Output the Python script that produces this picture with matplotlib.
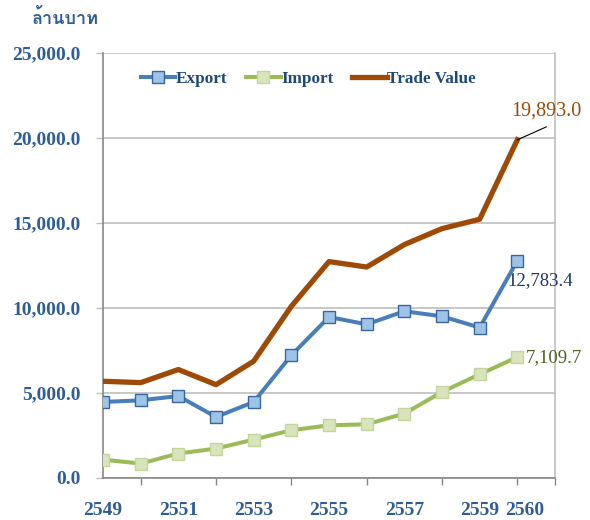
import numpy as np
import matplotlib
matplotlib.use('Agg')
import matplotlib.pyplot as plt
from matplotlib import font_manager
from matplotlib.ft2font import FT2Font

years = list(range(2549, 2561))
export = [4470, 4570, 4820, 3590, 4470, 7220, 9470, 9040, 9810, 9510, 8850, 12783.4]
imports = [1080, 850, 1440, 1730, 2260, 2810, 3100, 3160, 3790, 5060, 6100, 7109.7]
trade = [5690, 5610, 6380, 5490, 6870, 10100, 12730, 12410, 13730, 14670, 15220, 19893.0]
year_labels = ['2549', '2551', '2553', '2555', '2557', '2559', '2560']
unit_label = 'ล้านบาท'


def find_thai_font():
    # look for any installed font that carries Thai glyphs
    for f in font_manager.fontManager.ttflist:
        try:
            cmap = FT2Font(f.fname).get_charmap()
        except Exception:
            continue
        if ord('ล') in cmap and ord('บ') in cmap:
            return f.name
    return 'DejaVu Sans'


serif = ['Liberation Serif', 'DejaVu Serif']
blue_txt = '#2F5D95'

plt.rcParams['font.family'] = serif
fig = plt.figure(figsize=(5.9, 5.2), dpi=100)
ax = fig.add_axes([103 / 590, 42 / 520, 452 / 590, 425 / 520])

ax.plot(years, trade, color='#9E4A06', lw=3.8, label='Trade Value', zorder=3)
ax.plot(years, imports, color='#9BBB59', lw=2.9, marker='s', ms=8, mfc='#D8E4BC', mec='#C3D69B',
        mew=1.0, label='Import', zorder=4)
ax.plot(years, export, color='#4A7EBB', lw=2.9, marker='s', ms=8, mfc='#9DC3E6', mec='#3A66A0',
        mew=1.0, label='Export', zorder=5)

ax.set_xlim(2549, 2561)
ax.set_ylim(0, 25000)
ax.set_yticks(np.arange(0, 25001, 5000))
ax.set_yticklabels([f'{v:,.1f}' for v in np.arange(0, 25001, 5000)])
ax.yaxis.grid(True, color='#BFBFBF', lw=1.2)
ax.set_axisbelow(True)

label_pos = [2549, 2551, 2553, 2555, 2557, 2559, 2560.2]
ax.set_xticks(label_pos)
ax.set_xticklabels(year_labels)
ax.set_xticks(range(2549, 2562), minor=True)
ax.tick_params(axis='x', which='major', length=0, pad=17)
ax.tick_params(axis='x', which='minor', length=5, width=1, color='#888888', direction='out')
ax.tick_params(axis='y', length=5, width=1, color='#BFBFBF', direction='out', pad=11)
for lab in ax.get_xticklabels() + ax.get_yticklabels():
    lab.set_fontsize(14)
    lab.set_fontweight('bold')
    lab.set_color(blue_txt)

for side in ['left', 'bottom']:
    ax.spines[side].set_color('#888888')
    ax.spines[side].set_linewidth(1.2)
ax.spines['top'].set_visible(False)
ax.spines['right'].set_color('#BFBFBF')
ax.spines['right'].set_linewidth(1.2)

handles, labels = ax.get_legend_handles_labels()
order = [2, 1, 0]
leg = ax.legend([handles[i] for i in order], [labels[i] for i in order], loc='upper center',
                bbox_to_anchor=(0.455, 0.993), ncol=3, frameon=False, handlelength=2.0,
                handletextpad=0.05, columnspacing=1.1, prop={'family': serif, 'size': 12.3, 'weight': 'bold'})
for t in leg.get_texts():
    t.set_color('#1F497D')

ax.annotate(f'{trade[-1]:,.1f}', xy=(years[-1], trade[-1]), xytext=(21, 21), textcoords='offset points',
            ha='center', va='center', fontsize=14.5, color='#9E4A06',
            arrowprops=dict(arrowstyle='-', color='black', lw=0.8, relpos=(0.5, -0.35), shrinkA=0, shrinkB=0))
ax.annotate(f'{export[-1]:,.1f}', xy=(years[-1], export[-1]), xytext=(-7, -14), textcoords='offset points',
            ha='left', va='center', fontsize=13.5, color='#1F3864')
ax.annotate(f'{imports[-1]:,.1f}', xy=(years[-1], imports[-1]), xytext=(6, 0), textcoords='offset points',
            ha='left', va='center', fontsize=13.5, color='#4F6228')

fig.text(32 / 590, 1 - 19 / 520, unit_label, family=[find_thai_font(), 'DejaVu Sans'], fontsize=13,
         fontweight='bold', color=blue_txt, ha='left', va='center')

fig.savefig('out.png', dpi=100)
